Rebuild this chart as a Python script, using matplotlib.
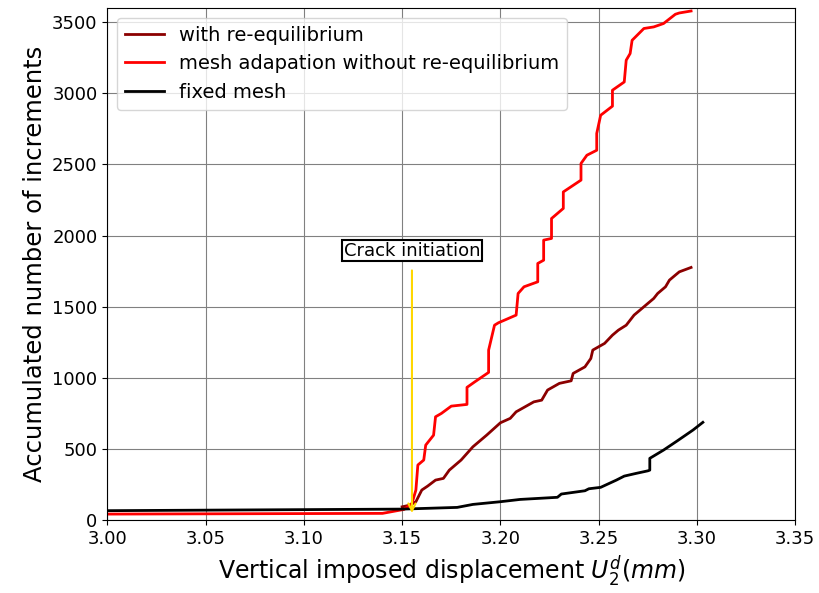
import matplotlib
matplotlib.use("Agg")
import matplotlib.pyplot as plt

# with re-equilibrium
x_reeq = [3.150, 3.154, 3.157, 3.160, 3.163, 3.167, 3.171, 3.174, 3.180, 3.186,
          3.193, 3.200, 3.205, 3.208, 3.217, 3.221, 3.224, 3.230, 3.236, 3.237,
          3.243, 3.246, 3.247, 3.253, 3.257, 3.260, 3.264, 3.268, 3.271, 3.275,
          3.278, 3.280, 3.284, 3.286, 3.289, 3.291, 3.297]
y_reeq = [93, 105, 129, 211, 239, 281, 293, 351, 422, 515,
          597, 684, 715, 761, 831, 843, 914, 961, 979, 1031,
          1077, 1136, 1195, 1242, 1300, 1335, 1370, 1441, 1476, 1523,
          1558, 1593, 1640, 1687, 1722, 1745, 1776]

# mesh adaptation without re-equilibrium
x_noreeq = [3.000, 3.140, 3.151, 3.155, 3.157, 3.158, 3.161, 3.162, 3.166, 3.167,
            3.170, 3.175, 3.183, 3.183, 3.187, 3.194, 3.194, 3.197, 3.199, 3.208,
            3.209, 3.212, 3.219, 3.219, 3.222, 3.222, 3.226, 3.226, 3.232, 3.232,
            3.241, 3.241, 3.244, 3.249, 3.249, 3.251, 3.257, 3.257, 3.263, 3.264,
            3.266, 3.267, 3.273, 3.278, 3.283, 3.289, 3.291, 3.297]
y_noreeq = [42, 47, 75, 117, 211, 387, 422, 527, 597, 726,
            750, 801, 813, 933, 972, 1038, 1195, 1370, 1387, 1441,
            1593, 1640, 1675, 1804, 1827, 1968, 1980, 2120, 2191, 2307,
            2390, 2507, 2565, 2600, 2718, 2846, 2910, 3022, 3080, 3233,
            3280, 3373, 3456, 3467, 3491, 3556, 3565, 3579]

# fixed mesh
x_fixed = [3.000, 3.150, 3.178, 3.186, 3.200, 3.210, 3.229, 3.231, 3.243, 3.245,
           3.251, 3.259, 3.263, 3.269, 3.275, 3.276, 3.276, 3.283, 3.290, 3.298,
           3.303]
y_fixed = [66, 77, 89, 110, 129, 145, 160, 183, 206, 220,
           230, 281, 309, 328, 346, 351, 434, 492, 557, 633,
           687]

crack_x = 3.155

fig, ax = plt.subplots(figsize=(8.19, 5.93), dpi=100)
fig.subplots_adjust(left=0.131, right=0.971, top=0.9865, bottom=0.123)

ax.plot(x_reeq, y_reeq, color='darkred', lw=2, label='with re-equilibrium')
ax.plot(x_noreeq, y_noreeq, color='red', lw=2,
        label='mesh adapation without re-equilibrium')
ax.plot(x_fixed, y_fixed, color='black', lw=2, label='fixed mesh')

ax.annotate('Crack initiation', xy=(crack_x, 30), xytext=(crack_x, 1895),
            ha='center', va='center', fontsize=13,
            bbox=dict(boxstyle='square,pad=0.1', fc='white', ec='black', lw=1.5),
            arrowprops=dict(arrowstyle='->', color='gold', lw=1.5, shrinkA=6))

ax.set_xlim(3.0, 3.35)
ax.set_ylim(0, 3600)
ax.set_xticks([3.00, 3.05, 3.10, 3.15, 3.20, 3.25, 3.30, 3.35])
ax.set_yticks(range(0, 3501, 500))
ax.tick_params(labelsize=13)
ax.grid(True, color='gray', lw=0.8)

ax.set_xlabel('Vertical imposed displacement $U_2^d(mm)$', fontsize=17)
ax.set_ylabel('Accumulated number of increments', fontsize=17.5)
ax.legend(loc='upper left', fontsize=14)

fig.savefig('out.png')
